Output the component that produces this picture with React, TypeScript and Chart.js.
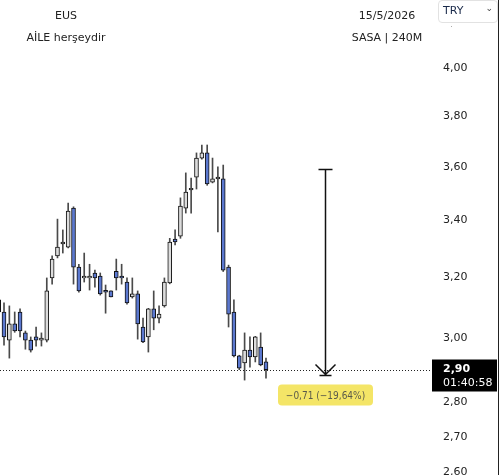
import React, { useEffect, useRef } from "react";
import { Chart, registerables } from "chart.js";

Chart.register(...registerables);

// ---- data ----
const opens = [3.124, 3.084, 2.993, 3.045, 3.084, 3.016, 2.993, 3.003, 2.993, 2.993, 3.198, 3.274, 3.316, 3.305, 3.445, 3.235, 3.198, 3.198, 3.215, 3.204, 3.156, 3.154, 3.221, 3.204, 3.184, 3.134, 3.144, 3.035, 3.003, 3.094, 3.064, 3.104, 3.181, 3.333, 3.344, 3.445, 3.513, 3.561, 3.634, 3.654, 3.542, 3.554, 3.554, 3.235, 3.084, 2.943, 2.921, 2.961, 2.940, 2.971, 2.924];
const closes = [3.084, 3.003, 3.045, 3.022, 3.022, 2.993, 2.961, 2.993, 2.999, 3.154, 3.263, 3.305, 3.323, 3.434, 3.235, 3.154, 3.204, 3.204, 3.198, 3.144, 3.150, 3.134, 3.198, 3.198, 3.114, 3.144, 3.045, 2.987, 3.094, 3.064, 3.077, 3.184, 3.323, 3.323, 3.453, 3.505, 3.519, 3.634, 3.654, 3.535, 3.554, 3.561, 3.225, 3.077, 2.943, 2.905, 2.961, 2.940, 3.003, 2.915, 2.90];
const highs = [3.13, 3.114, 3.104, 3.084, 3.094, 3.022, 3.003, 3.035, 3.016, 3.198, 3.274, 3.405, 3.366, 3.464, 3.45, 3.245, 3.284, 3.245, 3.225, 3.215, 3.174, 3.154, 3.263, 3.245, 3.198, 3.198, 3.154, 3.064, 3.096, 3.154, 3.104, 3.198, 3.336, 3.366, 3.483, 3.577, 3.557, 3.654, 3.685, 3.685, 3.634, 3.600, 3.607, 3.242, 3.124, 2.945, 3.016, 3.003, 3.005, 3.016, 2.936];
const lows = [3.075, 2.977, 2.936, 3.018, 3.003, 2.964, 2.955, 2.974, 2.974, 2.987, 3.177, 3.267, 3.284, 3.302, 3.177, 3.15, 3.184, 3.157, 3.167, 3.14, 3.080, 3.134, 3.157, 3.177, 3.11, 3.13, 2.996, 2.985, 2.955, 3.026, 3.048, 3.10, 3.178, 3.313, 3.336, 3.427, 3.427, 3.516, 3.63, 3.53, 3.539, 3.359, 3.22, 3.035, 2.94, 2.90, 2.868, 2.908, 2.924, 2.912, 2.874];
const yTicks = [2.6, 2.7, 2.8, 3.0, 3.2, 3.4, 3.6, 3.8, 4.0];
const lastPrice = 2.9;
const countdown = "01:40:58";
const measureFrom = 3.59;
const measureTo = 2.885;
const measureIndex = 61;
const measureLabel = "\u22120,71 (\u221219,64%)";

const UP = "#dcdcdc";
const DOWN = "#5b78cf";
const FONT = "'DejaVu Sans', sans-serif";

const fmt = (v: number) => v.toFixed(2).replace(".", ",");

export default function App() {
  const ref = useRef<HTMLCanvasElement | null>(null);

  useEffect(() => {
    const canvas = ref.current;
    if (!canvas) return;
    const idx = opens.map((_, i) => i);
    const colors = idx.map((i) => (closes[i] >= opens[i] ? UP : DOWN));

    const overlay = {
      id: "overlay",
      afterDatasetsDraw(chart: any) {
        const { ctx, chartArea, scales } = chart;
        const x = scales.x;
        const y = scales.y;
        ctx.save();
        // dotted last price line
        const py = Math.round(y.getPixelForValue(lastPrice)) + 0.5;
        ctx.strokeStyle = "#222";
        ctx.lineWidth = 1;
        ctx.setLineDash([1, 2]);
        ctx.beginPath();
        ctx.moveTo(chartArea.left, py);
        ctx.lineTo(chartArea.right - 2, py);
        ctx.stroke();
        ctx.setLineDash([]);

        // measure arrow
        const ax = Math.round(x.getPixelForValue(measureIndex)) + 0.5;
        const ay1 = y.getPixelForValue(measureFrom);
        const ay2 = y.getPixelForValue(measureTo);
        ctx.strokeStyle = "#111";
        ctx.lineWidth = 1.5;
        ctx.beginPath();
        ctx.moveTo(ax, ay1);
        ctx.lineTo(ax, ay2);
        ctx.moveTo(ax - 7, ay1);
        ctx.lineTo(ax + 7, ay1);
        ctx.moveTo(ax - 10, ay2 - 10);
        ctx.lineTo(ax, ay2);
        ctx.lineTo(ax + 10, ay2 - 10);
        ctx.moveTo(ax - 6, ay2 + 1);
        ctx.lineTo(ax + 6, ay2 + 1);
        ctx.stroke();

        // measure label
        const bw = 95, bh = 21;
        const bx = ax - bw / 2;
        const by = ay2 + 10;
        ctx.fillStyle = "#f4e567";
        ctx.beginPath();
        (ctx as any).roundRect(bx, by, bw, bh, 4);
        ctx.fill();
        ctx.fillStyle = "#5a5a4a";
        ctx.font = `10px 'DejaVu Sans Condensed', ${FONT}`;
        ctx.textAlign = "center";
        ctx.textBaseline = "middle";
        ctx.fillText(measureLabel, ax, by + bh / 2 + 1);

        // price tag on axis
        const tx = chartArea.right;
        ctx.fillStyle = "#000";
        ctx.fillRect(tx, py - 11, 65, 32);
        ctx.fillStyle = "#fff";
        ctx.textAlign = "left";
        ctx.font = `bold 11px ${FONT}`;
        ctx.fillText(fmt(lastPrice), tx + 11, py - 1);
        ctx.font = `11px ${FONT}`;
        ctx.fillText(countdown, tx + 11, py + 13);
        ctx.restore();
      },
    };

    const chart = new Chart(canvas, {
      type: "bar",
      data: {
        datasets: [
          {
            label: "body",
            data: idx.map((i) => ({ x: i, y: [opens[i], closes[i]] })) as any,
            backgroundColor: colors,
            borderColor: "#111",
            borderWidth: 1,
            borderSkipped: false,
            barThickness: 4,
            grouped: false,
            order: 1,
          } as any,
          {
            label: "wick",
            data: idx.map((i) => ({ x: i, y: [lows[i], highs[i]] })) as any,
            backgroundColor: "#4a4a4a",
            borderWidth: 0,
            barThickness: 1,
            grouped: false,
            order: 2,
          } as any,
        ],
      },
      options: {
        animation: false,
        responsive: false,
        maintainAspectRatio: false,
        layout: { padding: 0 },
        plugins: { legend: { display: false }, tooltip: { enabled: false } },
        scales: {
          x: {
            type: "linear",
            display: false,
            offset: false,
            min: 0.25,
            max: 81.05,
          },
          y: {
            type: "logarithmic",
            position: "right",
            min: 2.592,
            max: 4.301,
            grid: { display: false, drawTicks: false },
            border: { display: false },
            ticks: {
              autoSkip: false,
              padding: 11,
              color: "#222",
              font: { family: FONT, size: 11 },
              callback: (v: any) => fmt(Number(v)),
            },
            afterBuildTicks: (scale: any) => {
              scale.ticks = yTicks.map((v) => ({ value: v }));
            },
            afterFit: (scale: any) => {
              scale.width = 69;
              scale.paddingTop = 0;
              scale.paddingBottom = 0;
            },
          } as any,
        },
      },
      plugins: [overlay],
    });
    return () => chart.destroy();
  }, []);

  const text: React.CSSProperties = {
    position: "absolute",
    fontFamily: FONT,
    fontSize: 11,
    color: "#222",
    whiteSpace: "nowrap",
    transform: "translate(-50%, -50%)",
  };

  return (
    <div style={{ position: "fixed", left: 0, top: 0, width: 501, height: 475, background: "#fff", overflow: "hidden" }}>
      <canvas ref={ref} width={501} height={475} style={{ position: "absolute", left: 0, top: 0, width: 501, height: 475 }} />
      <div style={{ ...text, left: 66, top: 15 }}>EUS</div>
      <div style={{ ...text, left: 66, top: 37 }}>AİLE herşeydir</div>
      <div style={{ ...text, left: 387, top: 15 }}>15/5/2026</div>
      <div style={{ ...text, left: 387, top: 37 }}>SASA | 240M</div>
      <div
        style={{
          position: "absolute",
          left: 438,
          top: 0,
          width: 58,
          height: 21,
          border: "1px solid #e2e2e2",
          borderRadius: 4,
          background: "#fff",
          fontFamily: FONT,
          fontSize: 11,
          color: "#1a2a4a",
        }}
      >
        <span style={{ position: "absolute", left: 4, top: 3 }}>TRY</span>
        <span style={{ position: "absolute", right: 4, top: 2, fontSize: 9, color: "#444" }}>⌄</span>
      </div>
      <div style={{ position: "absolute", left: 451, top: 26, width: 1, height: 1, background: "#aaa" }} />
      <div style={{ position: "absolute", left: 498, top: 0, width: 1, height: 475, background: "#222" }} />
    </div>
  );
}
